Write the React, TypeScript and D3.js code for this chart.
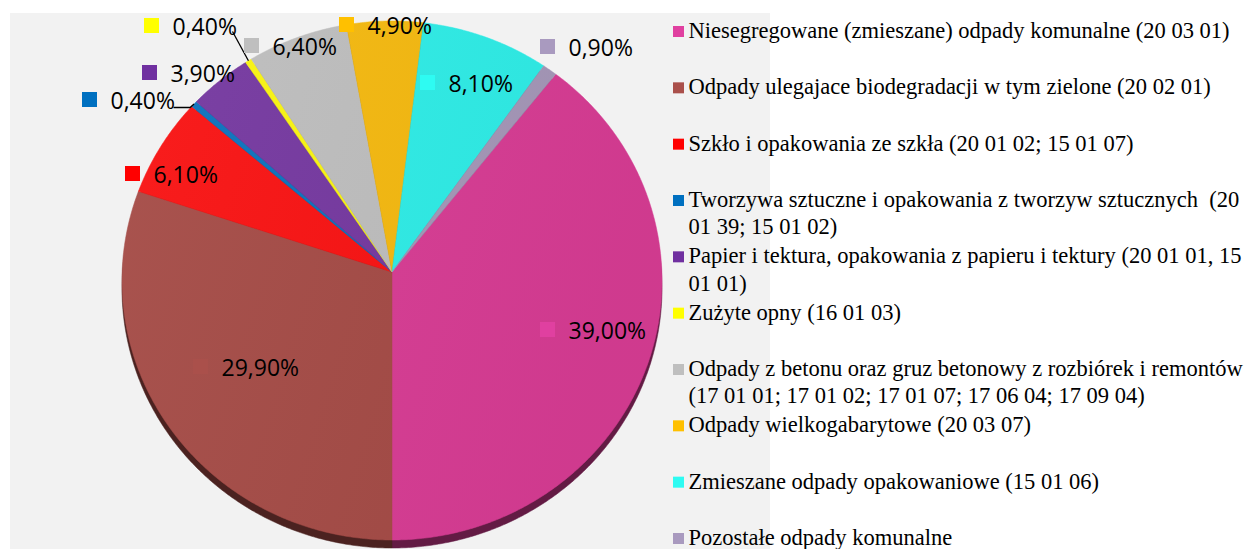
import React from 'react';
import * as d3 from 'd3';

// ---------- data ----------
const categories: string[][] = [
  ['Niesegregowane (zmieszane) odpady komunalne (20 03 01)'],
  ['Odpady ulegajace biodegradacji w tym zielone (20 02 01)'],
  ['Szkło i opakowania ze szkła (20 01 02; 15 01 07)'],
  ['Tworzywa sztuczne i opakowania z tworzyw sztucznych  (20', '01 39; 15 01 02)'],
  ['Papier i tektura, opakowania z papieru i tektury (20 01 01, 15', '01 01)'],
  ['Zużyte opny (16 01 03)'],
  ['Odpady z betonu oraz gruz betonowy z rozbiórek i remontów', '(17 01 01; 17 01 02; 17 01 07; 17 06 04; 17 09 04)'],
  ['Odpady wielkogabarytowe (20 03 07)'],
  ['Zmieszane odpady opakowaniowe (15 01 06)'],
  ['Pozostałe odpady komunalne'],
];
const values: number[] = [39.0, 29.9, 6.1, 0.4, 3.9, 0.4, 6.4, 4.9, 8.1, 0.9];
const valueLabels: string[] = ['39,00%', '29,90%', '6,10%', '0,40%', '3,90%', '0,40%', '6,40%', '4,90%', '8,10%', '0,90%'];

// ---------- styles ----------
const keyColors = ['#E040A0', '#AA504B', '#FF0000', '#0070C0', '#7030A0', '#FFFF00', '#BFBFBF', '#FFC000', '#2EFBF2', '#A99ABF'];
const sliceColors = ['#D83C94', '#A54B46', '#F91212', '#0B72BD', '#7538A0', '#FAF510', '#BEBEBE', '#F5B90F', '#2EEDE7', '#A597B8'];

// ---------- layout ----------
const W = 1247, H = 549;
const apex = { x: 392, y: 272 };
const ell = { cx: 392, cy: 280.5, rx: 270, ry: 259.5 };
const depth = 8;
// label key-square top-left positions (data label placement)
const labelPos: [number, number][] = [
  [540, 322], [193, 359], [125, 166], [82, 92], [142, 65],
  [144, 18], [244, 38], [339, 17], [420, 75], [540, 39],
];
// leader line style per label: 'elbow' | 'straight'
const leaderStyle: Record<number, string> = { 3: 'elbow', 5: 'straight' };

function edgePoint(theta: number) {
  const dx = Math.sin(theta), dy = -Math.cos(theta);
  const px = apex.x - ell.cx, py = apex.y - ell.cy;
  const a = (dx * dx) / (ell.rx * ell.rx) + (dy * dy) / (ell.ry * ell.ry);
  const b = 2 * ((px * dx) / (ell.rx * ell.rx) + (py * dy) / (ell.ry * ell.ry));
  const c = (px * px) / (ell.rx * ell.rx) + (py * py) / (ell.ry * ell.ry) - 1;
  const t = (-b + Math.sqrt(b * b - 4 * a * c)) / (2 * a);
  return { x: apex.x + t * dx, y: apex.y + t * dy };
}

function slicePath(a0: number, a1: number, oy = 0) {
  const n = Math.max(2, Math.ceil(((a1 - a0) * 180) / Math.PI / 0.5));
  const pts: [number, number][] = [[apex.x, apex.y + oy]];
  for (let i = 0; i <= n; i++) {
    const p = edgePoint(a0 + ((a1 - a0) * i) / n);
    pts.push([p.x, p.y + oy]);
  }
  return d3.line()(pts) + 'Z';
}

export default function App() {
  const total = d3.sum(values);
  const start = Math.PI - (values[0] / total) * 2 * Math.PI;
  const arcs = d3.pie<number>().sort(null).startAngle(start).endAngle(start + 2 * Math.PI)(values);

  const legendY = d3.scaleLinear().domain([0, 9]).range([38, 545]);
  const labelFont = "'Open Sans', sans-serif";
  const legendFont = "'Liberation Serif', 'Times New Roman', serif";

  return (
    <svg width={W} height={H} style={{ position: 'absolute', left: 0, top: 0, display: 'block' }}>
      <defs>
        <linearGradient id="shade" x1="0" y1="0" x2="1" y2="0.3">
          <stop offset="0" stopColor="#ffffff" stopOpacity={0.05} />
          <stop offset="1" stopColor="#000000" stopOpacity={0.04} />
        </linearGradient>
      </defs>
      <rect x={0} y={0} width={W} height={H} fill="#ffffff" />
      <rect x={10} y={13} width={760} height={H - 13} fill="#F2F2F2" />

      {/* side / depth */}
      <g>
        {arcs.map((a, i) => {
          const c = d3.color(sliceColors[i])!.darker(2.2).toString();
          return <path key={'s' + i} d={slicePath(a.startAngle, a.endAngle, depth)} fill={c} stroke={c} strokeWidth={0.5} />;
        })}
      </g>
      {/* top faces */}
      <g>
        {arcs.map((a, i) => (
          <path key={'p' + i} d={slicePath(a.startAngle, a.endAngle)} fill={sliceColors[i]} stroke={sliceColors[i]} strokeWidth={0.5} />
        ))}
        <ellipse cx={ell.cx} cy={ell.cy} rx={ell.rx} ry={ell.ry} fill="url(#shade)" />
      </g>

      {/* leader lines */}
      {arcs.map((a, i) => {
        const style = leaderStyle[i];
        if (!style) return null;
        const e = edgePoint((a.startAngle + a.endAngle) / 2);
        const [lx, ly] = labelPos[i];
        const tx = lx + 28.5 + 63;
        const by = ly + 16.5;
        if (style === 'elbow') {
          return <polyline key={'l' + i} points={`${tx},${by - 1} ${e.x - 4},${by - 1} ${e.x},${e.y}`} fill="none" stroke="#000" strokeWidth={1.3} />;
        }
        return <polyline key={'l' + i} points={`${tx - 3},${by - 3} ${e.x},${e.y}`} fill="none" stroke="#000" strokeWidth={1.3} />;
      })}

      {/* data labels */}
      {arcs.map((a, i) => {
        const [lx, ly] = labelPos[i];
        return (
          <g key={'dl' + i}>
            <rect x={lx} y={ly} width={15} height={15} fill={keyColors[i]} />
            <text x={lx + 28.5} y={ly + 16.8} fontFamily={labelFont} fontSize={23} fill="#000">{valueLabels[i]}</text>
          </g>
        );
      })}

      {/* legend */}
      {categories.map((lines, i) => {
        const y0 = legendY(i);
        return (
          <g key={'lg' + i}>
            <rect x={673} y={y0 - 12} width={11} height={11} fill={keyColors[i]} />
            {lines.map((ln, j) => (
              <text key={j} x={688.5} y={y0 + j * 27.3} fontFamily={legendFont} fontSize={22.5} fill="#000" style={{ whiteSpace: 'pre' }}>{ln}</text>
            ))}
          </g>
        );
      })}
    </svg>
  );
}
